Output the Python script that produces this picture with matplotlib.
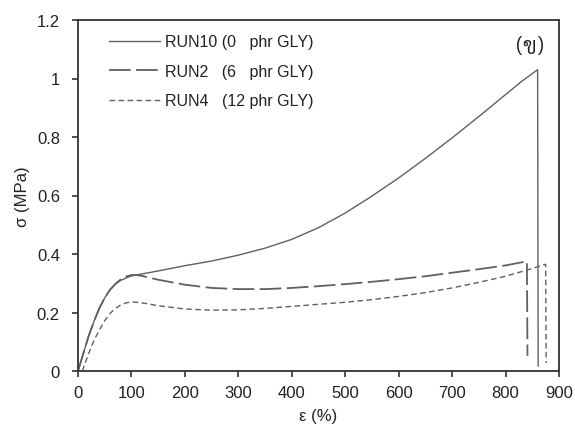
import matplotlib
matplotlib.use('Agg')
import matplotlib.pyplot as plt

plt.rcParams['font.family'] = ['Liberation Sans', 'DejaVu Sans']

# tensile curves: strain (%) and stress (MPa)
run10_x = [0, 10, 20, 30, 40, 50, 60, 70, 80, 90, 100, 120, 150, 200, 250,
           300, 350, 400, 450, 500, 550, 600, 650, 700, 750, 800, 830, 860, 861]
run10_y = [0, 0.06, 0.12, 0.17, 0.215, 0.25, 0.278, 0.297, 0.31, 0.318,
           0.325, 0.332, 0.342, 0.36, 0.376, 0.396, 0.42, 0.45, 0.49, 0.54,
           0.598, 0.66, 0.727, 0.797, 0.87, 0.945, 0.99, 1.03, 0.017]

run2_x = [0, 10, 20, 30, 40, 50, 60, 70, 80, 90, 100, 110, 120, 150, 200, 250,
          300, 350, 400, 450, 500, 550, 600, 650, 700, 750, 800, 840, 841]
run2_y = [0, 0.06, 0.12, 0.17, 0.215, 0.25, 0.278, 0.298, 0.313, 0.323,
          0.328, 0.328, 0.325, 0.312, 0.295, 0.284, 0.28, 0.28, 0.284, 0.29,
          0.297, 0.305, 0.314, 0.324, 0.336, 0.348, 0.361, 0.375, 0.052]

run4_x = [8, 20, 30, 40, 50, 60, 70, 80, 90, 100, 110, 130, 150, 200, 250,
          300, 350, 400, 450, 500, 550, 600, 650, 700, 750, 800, 840, 875, 876]
run4_y = [0, 0.06, 0.105, 0.14, 0.172, 0.197, 0.214, 0.226, 0.233, 0.236,
          0.235, 0.23, 0.223, 0.212, 0.208, 0.209, 0.214, 0.221, 0.228,
          0.235, 0.244, 0.255, 0.268, 0.284, 0.303, 0.324, 0.345, 0.365, 0.027]

labels = ['RUN10 (0   phr GLY)', 'RUN2   (6   phr GLY)', 'RUN4   (12 phr GLY)']

fig = plt.figure(figsize=(5.75, 4.39), dpi=100)
ax = fig.add_axes([78 / 575, 1 - 372 / 439, 481 / 575, 351 / 439])

c = '#606060'
l1, = ax.plot(run10_x, run10_y, color=c, lw=1.0, ls='-')
l2, = ax.plot(run2_x, run2_y, color=c, lw=1.3, ls=(0, (12, 3)))
l3, = ax.plot(run4_x, run4_y, color=c, lw=1.0, ls=(0, (4, 2.5)))

ax.set_xlim(0, 900)
ax.set_ylim(0, 1.2)
ax.set_xticks(range(0, 901, 100))
ax.set_yticks([0, 0.2, 0.4, 0.6, 0.8, 1.0, 1.2])
ax.set_yticklabels(['0', '0.2', '0.4', '0.6', '0.8', '1', '1.2'])
ax.tick_params(direction='out', length=4, width=1.2, color='#333333',
               labelsize=12, labelcolor='#222222', pad=6)
ax.tick_params(axis='y', pad=9)
for s in ax.spines.values():
    s.set_color('#333333')
    s.set_linewidth(1.3)

ax.set_xlabel('ε (%)', fontsize=12, color='#222222', labelpad=6)
ax.set_ylabel('σ (MPa)', fontsize=12, color='#222222', labelpad=5)

leg = ax.legend([l1, l2, l3], labels, loc='upper left',
                bbox_to_anchor=(0.035, 1.0), frameon=False, fontsize=11.5,
                handlelength=3.2, handletextpad=0.3, labelspacing=0.9)
for t in leg.get_texts():
    t.set_color('#222222')

ax.text(0.968, 0.925, '(ข)', transform=ax.transAxes, ha='right', va='center',
        fontsize=17, fontweight=300, family=['Sarabun', 'DejaVu Sans'],
        color='#222222')

fig.savefig('out.png', dpi=100)
